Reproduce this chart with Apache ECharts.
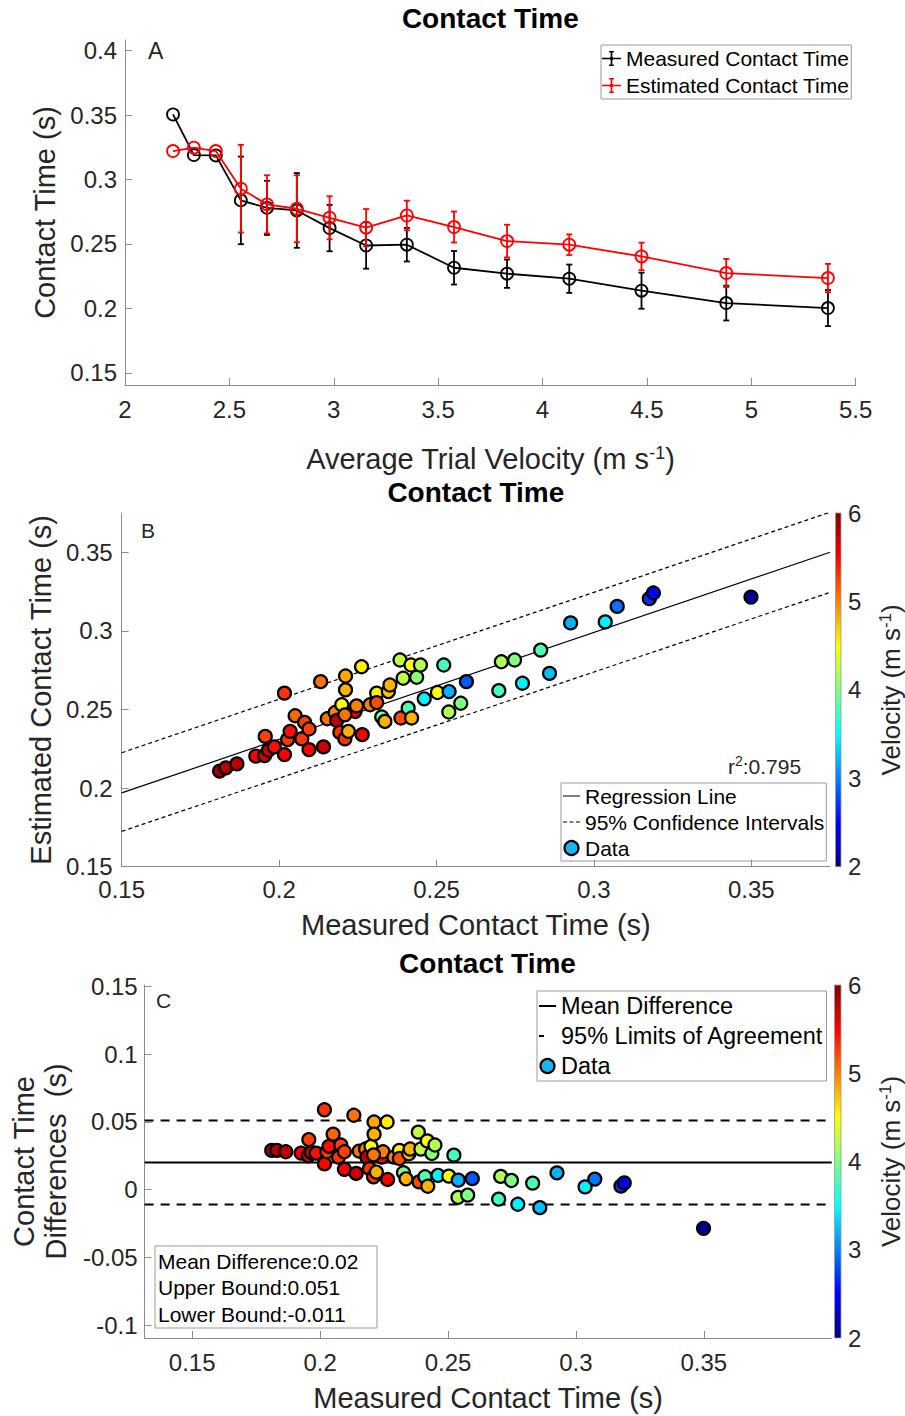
<!DOCTYPE html>
<html><head><meta charset="utf-8">
<script src="https://cdn.jsdelivr.net/npm/echarts@6/dist/echarts.min.js"></script>
<style>html,body{margin:0;padding:0;background:#fff}#c{width:905px;height:1416px}</style>
</head><body><div id="c"></div>
<script>
// ---------- Panel A data ----------
const trialVelocity = [2.23, 2.33, 2.435, 2.555, 2.68, 2.823, 2.98, 3.155, 3.35, 3.576, 3.83, 4.128, 4.474, 4.88, 5.367];
const measuredMean  = [0.3505, 0.3190, 0.3187, 0.2838, 0.2780, 0.2760, 0.2623, 0.2488, 0.2494, 0.2315, 0.2269, 0.2230, 0.2137, 0.2041, 0.2002];
const measuredSD    = [0, 0, 0, 0.034, 0.021, 0.029, 0.018, 0.018, 0.013, 0.013, 0.011, 0.011, 0.014, 0.0135, 0.014];
const estimatedMean = [0.3221, 0.3247, 0.3221, 0.2929, 0.2807, 0.2773, 0.2703, 0.2626, 0.2721, 0.2631, 0.2522, 0.2494, 0.2403, 0.2274, 0.2235];
const estimatedSD   = [0, 0, 0, 0.034, 0.0226, 0.026, 0.0167, 0.0145, 0.0115, 0.012, 0.0127, 0.008, 0.0107, 0.011, 0.011];
const ticksAx = [2, 2.5, 3, 3.5, 4, 4.5, 5, 5.5];
const ticksAy = [0.15, 0.2, 0.25, 0.3, 0.35, 0.4];

// ---------- Panel B / C data ----------
const measuredCT = [0.1811,0.1831,0.1866,0.1926,0.1954,0.1956,0.1966,0.1985,0.2017,0.2017,
  0.2027,0.2035,0.2051,0.2072,0.2081,0.2095,0.2095,0.2132,0.2141,0.2153,
  0.2178,0.2183,0.2193,0.2199,0.2209,0.2211,0.2211,0.2220,0.2241,0.2246,
  0.2262,0.2264,0.2289,0.2310,0.2310,0.2326,0.2336,0.2347,0.2352,0.2384,
  0.2387,0.2394,0.2410,0.2419,0.2421,0.2437,0.2449,0.2461,0.2503,0.2523,
  0.2540,0.2539,0.2577,0.2595,0.2698,0.2706,0.2748,0.2773,0.2831,0.2859,
  0.2926,0.3036,0.3074,0.3176,0.3189,0.3499,0.2209];
const estimatedCT = [0.2108,0.2129,0.2154,0.2203,0.2207,0.2329,0.2241,0.2262,0.2213,0.2604,
  0.2308,0.2361,0.2460,0.2313,0.2418,0.2376,0.2245,0.2677,0.2262,0.2441,
  0.2481,0.2430,0.2354,0.2530,0.2313,0.2713,0.2625,0.2361,0.2487,0.2523,
  0.2772,0.2340,0.2530,0.2604,0.2544,0.2452,0.2424,0.2614,0.2656,0.2815,
  0.2446,0.2699,0.2509,0.2783,0.2446,0.2705,0.2783,0.2568,0.2608,0.2783,
  0.2614,0.2484,0.2540,0.2677,0.2620,0.2804,0.2815,0.2667,0.2878,0.2730,
  0.3051,0.3057,0.3156,0.3205,0.3241,0.3215,0.2466];
const ctDifference = [0.029,0.029,0.028,0.027,0.025,0.037,0.0275,0.027,0.019,0.059,
  0.028,0.032,0.041,0.024,0.033,0.028,0.015,0.055,0.012,0.0285,
  0.030,0.024,0.0155,0.032,0.0095,0.050,0.041,0.013,0.024,0.028,
  0.050,0.0075,0.024,0.029,0.023,0.0125,0.008,0.0265,0.030,0.0425,
  0.0057,0.030,0.0095,0.036,0.0025,0.0267,0.033,0.0106,0.010,0.0255,
  0.007,-0.0057,-0.004,0.0081,-0.007,0.0098,0.0068,-0.0108,0.0048,-0.0133,
  0.0124,0.002,0.0078,0.0026,0.005,-0.0286,0.0257];
const pointVelocity = [5.85,5.8,5.75,5.5,5.65,5.25,5.7,5.45,5.5,5.3,
  5.3,5.45,5.1,5.3,5.25,5.25,5.5,5.05,5.7,5.05,
  5.0,5.75,5.3,4.5,5.3,4.85,4.8,4.8,5.5,5.0,
  4.55,5.5,5.0,4.55,5.2,4.0,4.8,4.75,4.8,4.25,
  5.2,4.25,3.8,4.5,4.8,4.05,4.2,3.45,4.5,3.75,
  3.2,4.2,4.0,2.85,3.75,4.2,4.0,3.45,3.8,3.25,
  3.2,3.45,2.95,2.7,2.45,2.1,5.05];
const regressionX = [0.15, 0.375];
const regressionY = [0.197, 0.350];
const ciUpperY = [0.2225, 0.3755];
const ciLowerY = [0.1725, 0.3245];
const rSquared = '0.795';
const meanDifference = 0.02;
const upperBound = 0.051;
const lowerBound = -0.011;
const ticksB = [0.15, 0.2, 0.25, 0.3, 0.35];
const ticksCx = [0.15, 0.2, 0.25, 0.3, 0.35];
const ticksCy = [-0.1, -0.05, 0, 0.05, 0.1, 0.15];
const velocityRange = [2, 6];

// ---------- styling ----------
const FONT = "'Liberation Sans', Arial, Helvetica, sans-serif";
const AXIS_GRAY = '#8c8c8c';
const TXT = '#262626';
const jet = ['#000080','#0000ff','#0080ff','#00ffff','#80ff80','#ffff00','#ff8000','#ff0000','#800000'];
const fmt = v => String(parseFloat(Number(v).toFixed(3)));
const richSup = { n: {fontSize: 29, color: TXT, fontFamily: FONT, lineHeight: 30}, s: {fontSize: 18, color: TXT, fontFamily: FONT, verticalAlign: 'top', lineHeight: 18, padding: [0,0,4,0]} };

function valAxis(gi, min, max, ticks, opt) {
  opt = opt || {};
  return {
    type: 'value', gridIndex: gi, min: min, max: max,
    name: opt.name || '', nameLocation: 'middle', nameGap: opt.nameGap || 40,
    nameTextStyle: Object.assign({fontSize: 29, color: TXT, fontFamily: FONT, rich: richSup}, opt.nameTextStyle || {}),
    axisLine: {show: true, onZero: false, lineStyle: {color: AXIS_GRAY, width: 1}},
    axisTick: {show: true, inside: true, length: 7, customValues: ticks, lineStyle: {color: AXIS_GRAY}},
    axisLabel: {show: true, customValues: ticks, formatter: fmt, color: TXT, fontSize: opt.tickFont || 24, fontFamily: FONT, margin: opt.margin || 10},
    splitLine: {show: false}
  };
}

function errRender(color) {
  return function (params, api) {
    const x = api.value(0), lo = api.value(1), hi = api.value(2);
    if (!(hi > lo)) return null;
    const t = api.coord([x, hi]), b = api.coord([x, lo]);
    const cw = 3, st = {stroke: color, lineWidth: 1.8};
    return {type: 'group', children: [
      {type: 'line', shape: {x1: t[0], y1: t[1], x2: b[0], y2: b[1]}, style: st},
      {type: 'line', shape: {x1: t[0]-cw, y1: t[1], x2: t[0]+cw, y2: t[1]}, style: st},
      {type: 'line', shape: {x1: b[0]-cw, y1: b[1], x2: b[0]+cw, y2: b[1]}, style: st}
    ]};
  };
}
function colorbarRender(params, api) {
  const p0 = api.coord([api.value(0), api.value(1)]);
  const p1 = api.coord([api.value(2), api.value(3)]);
  const stops = jet.map((c, i) => ({offset: i / (jet.length - 1), color: c}));
  return {type: 'rect', shape: {x: p0[0], y: p1[1], width: p1[0]-p0[0], height: p0[1]-p1[1]},
    style: {fill: new echarts.graphic.LinearGradient(0, 1, 0, 0, stops), stroke: '#9a9a9a', lineWidth: 0.8}};
}

// legend icons (zero-area triangles only pad the bounding box)
const errIconPath = 'path://M0,7.25H20V8.75H0Z M9.1,0H10.9V16H9.1Z M7.5,0H12.5V1.6H7.5Z M7.5,14.4H12.5V16H7.5Z M8.4,6.4H11.6V9.6H8.4Z';
const solidThinPath = 'path://M0,6.4H17V7.6H0Z M0,0L0,0L0,14Z';
const dashedThinPath = 'path://M0,6.4H4V7.6H0Z M6.5,6.4H10.5V7.6H6.5Z M13,6.4H17V7.6H13Z M0,0L0,0L0,14Z';
const solidThickPath = 'path://M0,6H17V8H0Z M0,0L0,0L0,14Z';
const shortDashPath = 'path://M0,6H5V8H0Z M17,0L17,0L17,14Z';

const series = [];
// Panel A
series.push({type: 'custom', name: 'Measured Contact Time', xAxisIndex: 0, yAxisIndex: 0, renderItem: errRender('#000'),
  encode: {x: 0, y: [1, 2]}, data: trialVelocity.map((v, i) => [v, measuredMean[i]-measuredSD[i], measuredMean[i]+measuredSD[i]]), z: 2});
series.push({type: 'line', name: 'Measured Contact Time', xAxisIndex: 0, yAxisIndex: 0, symbol: 'circle', symbolSize: 12,
  itemStyle: {color: 'rgba(0,0,0,0)', borderColor: '#000', borderWidth: 1.8}, lineStyle: {color: '#000', width: 1.8},
  data: trialVelocity.map((v, i) => [v, measuredMean[i]]), z: 3});
series.push({type: 'custom', name: 'Estimated Contact Time', xAxisIndex: 0, yAxisIndex: 0, renderItem: errRender('#ff0000'),
  encode: {x: 0, y: [1, 2]}, data: trialVelocity.map((v, i) => [v, estimatedMean[i]-estimatedSD[i], estimatedMean[i]+estimatedSD[i]]), z: 4});
series.push({type: 'line', name: 'Estimated Contact Time', xAxisIndex: 0, yAxisIndex: 0, symbol: 'circle', symbolSize: 12,
  itemStyle: {color: 'rgba(0,0,0,0)', borderColor: '#ff0000', borderWidth: 1.8}, lineStyle: {color: '#ff0000', width: 1.8},
  data: trialVelocity.map((v, i) => [v, estimatedMean[i]]), z: 5});
// Panel B
series.push({type: 'line', name: 'Regression Line', xAxisIndex: 1, yAxisIndex: 1, symbol: 'none', clip: true,
  lineStyle: {color: '#000', width: 1.2}, data: regressionX.map((x, i) => [x, regressionY[i]])});
series.push({type: 'line', name: '95% Confidence Intervals', xAxisIndex: 1, yAxisIndex: 1, symbol: 'none', clip: true,
  lineStyle: {color: '#000', width: 1.2, type: [4, 3]}, data: regressionX.map((x, i) => [x, ciUpperY[i]])});
series.push({type: 'line', name: '95% Confidence Intervals', xAxisIndex: 1, yAxisIndex: 1, symbol: 'none', clip: true,
  lineStyle: {color: '#000', width: 1.2, type: [4, 3]}, data: regressionX.map((x, i) => [x, ciLowerY[i]])});
const idxB = series.length;
series.push({type: 'scatter', name: 'Data', xAxisIndex: 1, yAxisIndex: 1, symbolSize: 13,
  itemStyle: {color: '#1cb4ef', borderColor: '#000', borderWidth: 2.2, opacity: 1},
  encode: {x: 0, y: 1}, data: measuredCT.map((m, i) => [m, estimatedCT[i], pointVelocity[i]]), z: 5});
// Panel C
const cxRange = [0.1314, 0.4];
series.push({type: 'line', name: 'Mean Difference', xAxisIndex: 2, yAxisIndex: 2, symbol: 'none',
  lineStyle: {color: '#000', width: 2}, data: cxRange.map(x => [x, meanDifference])});
series.push({type: 'line', name: '95% Limits of Agreement', xAxisIndex: 2, yAxisIndex: 2, symbol: 'none',
  lineStyle: {color: '#000', width: 2, type: [9, 7]}, data: cxRange.map(x => [x, upperBound])});
series.push({type: 'line', name: '95% Limits of Agreement', xAxisIndex: 2, yAxisIndex: 2, symbol: 'none',
  lineStyle: {color: '#000', width: 2, type: [9, 7]}, data: cxRange.map(x => [x, lowerBound])});
const idxC = series.length;
series.push({type: 'scatter', name: 'Data', xAxisIndex: 2, yAxisIndex: 2, symbolSize: 13,
  itemStyle: {color: '#1cb4ef', borderColor: '#000', borderWidth: 2.2, opacity: 1},
  encode: {x: 0, y: 1}, data: measuredCT.map((m, i) => [m, ctDifference[i], pointVelocity[i]]), z: 5});
// colorbars
series.push({type: 'custom', xAxisIndex: 3, yAxisIndex: 3, renderItem: colorbarRender, silent: true,
  encode: {x: [0, 2], y: [1, 3]}, data: [[0, velocityRange[0], 1, velocityRange[1]]]});
series.push({type: 'custom', xAxisIndex: 4, yAxisIndex: 4, renderItem: colorbarRender, silent: true,
  encode: {x: [0, 2], y: [1, 3]}, data: [[0, velocityRange[0], 1, velocityRange[1]]]});

const titleStyle = {fontSize: 28, fontWeight: 'bold', color: '#000', fontFamily: FONT};
const legendText = (fs, lh) => ({fontSize: fs, color: '#000', fontFamily: FONT, lineHeight: lh});

function cbAxis(gi) {
  return {type: 'value', gridIndex: gi, min: velocityRange[0], max: velocityRange[1], interval: 1, position: 'right',
    name: '{n|Velocity (m s}{s|-1}{n|)}', nameLocation: 'middle', nameRotate: 90, nameGap: 36,
    nameTextStyle: {fontSize: 26, color: TXT, fontFamily: FONT, rich: {n: {fontSize: 26, color: TXT, fontFamily: FONT, lineHeight: 28}, s: {fontSize: 17, color: TXT, fontFamily: FONT, verticalAlign: 'top', lineHeight: 17, padding: [0,0,4,0]}}},
    axisLine: {show: false}, axisTick: {show: false}, splitLine: {show: false},
    axisLabel: {color: TXT, fontSize: 24, fontFamily: FONT, margin: 7}};
}

const option = {
  animation: false,
  backgroundColor: '#fff',
  textStyle: {fontFamily: FONT},
  title: [
    {text: 'Contact Time', left: 490.3, top: 4, textAlign: 'center', padding: 0, textStyle: titleStyle},
    {text: 'Contact Time', left: 475.8, top: 478, textAlign: 'center', padding: 0, textStyle: titleStyle},
    {text: 'Contact Time', left: 487.5, top: 949, textAlign: 'center', padding: 0, textStyle: titleStyle}
  ],
  grid: [
    {left: 125, top: 40, width: 730.7, height: 345},
    {left: 121.7, top: 513, width: 708.3, height: 353.7},
    {left: 143.3, top: 985, width: 688.4, height: 353},
    {left: 835.5, top: 513, width: 9.5, height: 353.7},
    {left: 834.5, top: 985, width: 10, height: 353}
  ],
  xAxis: [
    valAxis(0, 2, 5.5, ticksAx, {name: '{n|Average Trial Velocity (m s}{s|-1}{n|)}', nameGap: 59, margin: 12}),
    valAxis(1, 0.15, 0.375, ticksB, {name: 'Measured Contact Time (s)', nameGap: 44, margin: 11}),
    valAxis(2, cxRange[0], cxRange[1], ticksCx, {name: 'Measured Contact Time (s)', nameGap: 45, margin: 12}),
    {type: 'value', gridIndex: 3, min: 0, max: 1, show: false},
    {type: 'value', gridIndex: 4, min: 0, max: 1, show: false}
  ],
  yAxis: [
    valAxis(0, 0.1405, 0.4083, ticksAy, {name: 'Contact Time (s)', nameGap: 60, margin: 8}),
    valAxis(1, 0.15, 0.375, ticksB, {name: 'Estimated Contact Time (s)', nameGap: 60, margin: 9}),
    valAxis(2, -0.1096, 0.1512, ticksCy, {name: 'Contact Time\nDifferences  (s)', nameGap: 66, margin: 7, nameTextStyle: {lineHeight: 32}}),
    cbAxis(3),
    cbAxis(4)
  ],
  visualMap: [{type: 'continuous', show: false, min: velocityRange[0], max: velocityRange[1], dimension: 2,
    seriesIndex: [idxB, idxC], inRange: {color: jet}}],
  legend: [
    {orient: 'vertical', left: 601, top: 45, itemWidth: 19, itemHeight: 16, itemGap: 0, padding: [0, 2, 0, 1],
     borderColor: '#9a9a9a', borderWidth: 1, selectedMode: false, textStyle: legendText(21, 27),
     data: [{name: 'Measured Contact Time', icon: errIconPath, itemStyle: {color: '#000', borderWidth: 0}},
            {name: 'Estimated Contact Time', icon: errIconPath, itemStyle: {color: '#ff0000', borderWidth: 0}}]},
    {orient: 'vertical', left: 561, top: 783, itemWidth: 17, itemHeight: 14, itemGap: 0, padding: [0, 2, 0, 2],
     borderColor: '#9a9a9a', borderWidth: 1, selectedMode: false, textStyle: legendText(21, 26),
     data: [{name: 'Regression Line', icon: solidThinPath, itemStyle: {color: '#000', borderWidth: 0}},
            {name: '95% Confidence Intervals', icon: dashedThinPath, itemStyle: {color: '#000', borderWidth: 0}},
            {name: 'Data', icon: 'circle', itemStyle: {color: '#1cb4ef', borderColor: '#000', borderWidth: 2.2}}]},
    {orient: 'vertical', left: 537, top: 991, itemWidth: 17, itemHeight: 14, itemGap: 0, padding: [0, 3, 0, 2],
     borderColor: '#9a9a9a', borderWidth: 1, selectedMode: false, textStyle: legendText(23.5, 30),
     data: [{name: 'Mean Difference', icon: solidThickPath, itemStyle: {color: '#000', borderWidth: 0}},
            {name: '95% Limits of Agreement', icon: shortDashPath, itemStyle: {color: '#000', borderWidth: 0}},
            {name: 'Data', icon: 'circle', itemStyle: {color: '#1cb4ef', borderColor: '#000', borderWidth: 2.2}}]}
  ],
  graphic: [
    {type: 'text', left: 148, top: 39, style: {text: 'A', fontSize: 23, fill: TXT, fontFamily: FONT}},
    {type: 'text', left: 141, top: 520, style: {text: 'B', fontSize: 21, fill: TXT, fontFamily: FONT}},
    {type: 'text', left: 156, top: 990, style: {text: 'C', fontSize: 21, fill: TXT, fontFamily: FONT}},
    {type: 'text', left: 728, top: 754, style: {text: '{n|r}{s|2}{n|:' + rSquared + '}', fontFamily: FONT,
      rich: {n: {fontSize: 21, fill: TXT, fontFamily: FONT, lineHeight: 24}, s: {fontSize: 14, fill: TXT, fontFamily: FONT, verticalAlign: 'top', lineHeight: 14}}}},
    {type: 'rect', shape: {x: 155, y: 1246, width: 222, height: 82}, style: {fill: '#fff', stroke: '#9a9a9a', lineWidth: 1}, z: 10},
    {type: 'text', left: 158, top: 1248, z: 11, style: {text: 'Mean Difference:' + meanDifference + '\nUpper Bound:' + upperBound + '\nLower Bound:' + lowerBound,
      fontSize: 21, lineHeight: 26.5, fill: '#000', fontFamily: FONT}}
  ],
  series: series
};

const chart = echarts.init(document.getElementById('c'), null, {renderer: 'svg', width: 905, height: 1416});
chart.setOption(option);
</script></body></html>
